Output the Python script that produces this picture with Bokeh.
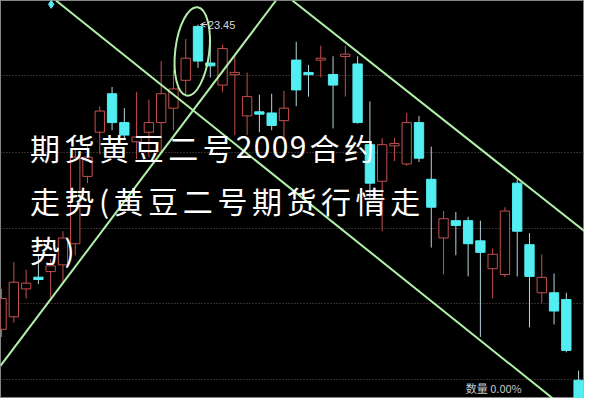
from bokeh.plotting import figure
from bokeh.models import Range1d, FixedTicker, Label, Arrow, OpenHead, ColumnDataSource
from bokeh.embed import file_html
from bokeh.resources import INLINE

# ---- data (prices) ----
opens  = [20.28, 20.41, 20.70, 20.82, 20.88, 20.95, 21.17, 21.87, 22.33, 22.73,
          22.43, 22.23, 22.33, 22.43, 22.58, 22.87, 23.43, 23.05, 22.82, 22.93,
          22.50, 22.54, 22.53, 22.45, 23.08, 22.95, 23.08, 22.93, 23.12, 23.04,
          22.20, 21.82, 22.19, 22.00, 22.43, 21.84, 21.23, 21.41, 21.41, 21.20,
          20.91, 20.85, 21.80, 21.16, 20.66, 20.66, 20.59, 19.75]
closes = [20.60, 20.77, 20.76, 20.80, 20.94, 21.23, 22.07, 22.07, 22.55, 22.43,
          22.30, 22.28, 22.43, 22.73, 22.78, 23.10, 23.07, 23.02, 23.20, 22.95,
          22.70, 22.52, 22.40, 22.58, 22.77, 22.93, 23.10, 22.82, 23.14, 22.43,
          21.80, 22.20, 22.21, 22.43, 22.06, 21.55, 21.43, 21.36, 21.17, 21.08,
          21.06, 21.51, 21.30, 20.83, 20.82, 20.47, 20.06, 19.40]
highs  = [20.70, 20.98, 20.90, 21.05, 21.01, 21.30, 22.15, 22.20, 22.60, 22.80,
          22.58, 22.75, 22.67, 23.07, 22.98, 23.30, 23.45, 23.33, 23.24, 23.13,
          22.95, 22.72, 22.73, 22.76, 23.27, 23.03, 23.23, 23.12, 23.23, 23.12,
          22.65, 22.27, 22.27, 22.53, 22.50, 22.18, 21.51, 21.50, 21.45, 21.41,
          21.12, 21.55, 21.85, 21.28, 21.06, 20.86, 20.66, 19.85]
lows   = [20.20, 20.35, 20.60, 20.75, 20.61, 20.75, 21.05, 21.80, 22.10, 22.35,
          22.25, 22.05, 22.07, 22.10, 22.35, 22.70, 23.00, 22.90, 22.75, 22.30,
          22.30, 22.33, 22.35, 22.27, 22.60, 22.70, 22.90, 22.37, 22.70, 22.42,
          21.65, 21.30, 22.03, 21.98, 22.02, 21.13, 20.85, 21.05, 20.83, 20.20,
          20.60, 20.82, 20.83, 20.30, 20.55, 20.33, 20.04, 19.40]
grid_levels = [22.92, 22.12, 21.33, 20.55, 19.76]
peak_label = "23.45"
trend_x = [[4.43, 45.49], [-0.09, 22.35], [23.69, 47.48]]
trend_y = [[23.70, 19.50], [19.90, 23.70], [23.70, 21.30]]
circle_center = (15.53, 23.17)
marker_pt = ([4.04], [23.66])
title_lines = ["期货黄豆二号2009合约", "走势(黄豆二号期货行情走", "势)"]
footer_text = "数量 0.00%"

W, H = 584, 398
RED = "#c4504e"
CYAN = "#52eef2"
CYAN_WICK = "#b4d4dc"
GREEN = "#b0f0a8"

def sx(px):
    return px * W / 600.0

def sy(py):
    return (414 - py) * H / 414.0

n = len(opens)
idx = list(range(n))
up = [c >= o for o, c in zip(opens, closes)]

def body(o, c):
    t, b = max(o, c), min(o, c)
    if t - b < 0.02:
        m = (t + b) / 2
        t, b = m + 0.012, m - 0.012
    return t, b

tops, bots = zip(*[body(o, c) for o, c in zip(opens, closes)])

up_src = ColumnDataSource(dict(
    x=[i for i in idx if up[i]], top=[tops[i] for i in idx if up[i]],
    bottom=[bots[i] for i in idx if up[i]],
    h=[highs[i] for i in idx if up[i]], l=[lows[i] for i in idx if up[i]]))
dn_src = ColumnDataSource(dict(
    x=[i for i in idx if not up[i]], top=[tops[i] for i in idx if not up[i]],
    bottom=[bots[i] for i in idx if not up[i]],
    h=[highs[i] for i in idx if not up[i]], l=[lows[i] for i in idx if not up[i]]))

p = figure(width=W, height=H, output_backend="svg", toolbar_location=None,
           x_range=Range1d(-0.087, 47.48), y_range=Range1d(19.56, 23.70),
           min_border=0, background_fill_color="black", border_fill_color="black")
p.xaxis.visible = False
p.yaxis.visible = False
p.xgrid.visible = False
p.ygrid.ticker = FixedTicker(ticks=grid_levels)
p.ygrid.grid_line_color = "#6a5252"
p.ygrid.grid_line_dash = "1 2"
p.ygrid.grid_line_width = 1
p.outline_line_color = "#858585"
p.outline_line_width = 1

# wicks
p.segment(x0="x", y0="l", x1="x", y1="h", source=up_src, line_color=RED, line_width=1)
p.segment(x0="x", y0="l", x1="x", y1="h", source=dn_src, line_color=CYAN_WICK, line_width=1)
# bodies
p.vbar(x="x", top="top", bottom="bottom", width=0.76, source=up_src,
       fill_color="black", line_color=RED, line_width=1)
p.vbar(x="x", top="top", bottom="bottom", width=0.76, source=dn_src,
       fill_color=CYAN, line_color=CYAN, line_width=1)

# trend lines
p.multi_line(xs=trend_x, ys=trend_y, line_color=GREEN, line_width=2)

# ellipse round the peak
p.ellipse(x=[circle_center[0]], y=[circle_center[1]], width=34, height=89,
          width_units="screen", height_units="screen", angle=-0.12,
          fill_color=None, line_color=GREEN, line_width=2)

p.scatter(x=marker_pt[0], y=marker_pt[1], marker="diamond", size=8,
          color=CYAN)

# peak label
pk = highs.index(max(highs))
p.add_layout(Arrow(end=OpenHead(size=5, line_color="#d8d8d8", line_width=1),
                   x_start=pk + 0.75, y_start=max(highs),
                   x_end=pk + 0.2, y_end=max(highs),
                   line_color="#d8d8d8", line_width=1))
p.add_layout(Label(x=pk + 0.8, y=max(highs), text=peak_label,
                   text_font="Liberation Sans", text_font_size="11px",
                   text_color="#d8d8d8", text_baseline="middle"))

# overlaid title (per character for spacing)
line_py = [152, 207, 258]
for line, py in zip(title_lines, line_py):
    cur = 28.0
    for ch in line:
        if ch.isdigit():
            adv = 18.5
        elif ch in "()":
            adv = 15.0
        else:
            adv = 35.5
        p.add_layout(Label(x=sx(cur + adv / 2), y=sy(py), x_units="screen", y_units="screen",
                           text=ch, text_font="Noto Sans CJK SC", text_font_size="30px",
                           text_color="white", text_align="center", text_baseline="middle"))
        cur += adv

p.add_layout(Label(x=sx(478), y=3, x_units="screen", y_units="screen",
                   text=footer_text, text_font="Noto Sans CJK SC", text_font_size="11px",
                   text_color="#c8c8c8", text_baseline="bottom"))

open("out.html", "w").write(file_html(p, INLINE))
